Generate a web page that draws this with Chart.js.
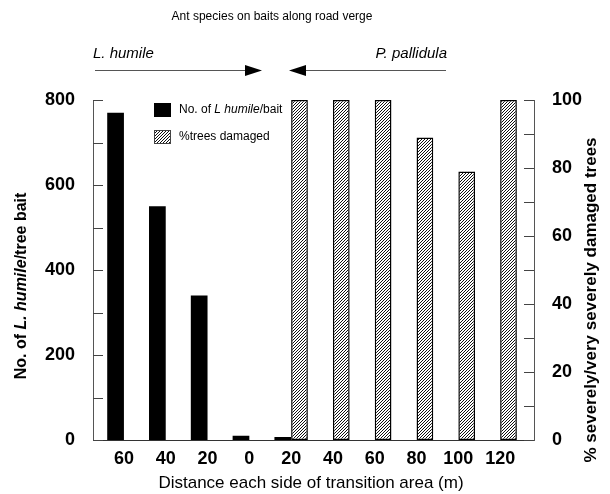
<!DOCTYPE html>
<html>
<head>
	<script src="https://cdn.jsdelivr.net/npm/chart.js@4/dist/chart.umd.min.js"></script>
	<title>Ant species on baits along road verge</title>
	<style>
		body { margin: 0; background: #fff; }
	</style>
</head>
<body>
	<canvas id="myChart" width="610" height="494"></canvas>
	<script type="text/javascript">
		// distances each side of the transition area (m)
		const distLabels = ['60', '40', '20', '0', '20', '40', '60', '80', '100', '120'];
		// No. of L. humile per tree bait
		const antCounts = [770, 550, 340, 10, 7, 0, 0, 0, 0, 0];
		// % severely / very severely damaged trees
		const pctDamaged = [0, 0, 0, 0, 100, 100, 100, 89, 79, 100];

		const leftTicks = [0, 200, 400, 600, 800];
		const rightTicks = [0, 20, 40, 60, 80, 100];

		const FONT = '"Liberation Sans", Arial, Helvetica, sans-serif';

		// diagonal hatching for the damage bars
		function makeHatch() {
			const c = document.createElement('canvas');
			c.width = 3; c.height = 3;
			const g = c.getContext('2d');
			g.fillStyle = '#fff';
			g.fillRect(0, 0, 3, 3);
			g.strokeStyle = '#111';
			g.lineWidth = 1;
			g.beginPath();
			g.moveTo(0, 3); g.lineTo(3, 0);
			g.moveTo(-1, 1); g.lineTo(1, -1);
			g.moveTo(2, 4); g.lineTo(4, 2);
			g.stroke();
			return g.createPattern(c, 'repeat');
		}
		const hatch = makeHatch();

		// draws a run of text pieces, some in italics
		function drawParts(ctx, parts, x, y, size, weight, align) {
			let total = 0;
			parts.forEach(p => {
				ctx.font = (p[1] ? 'italic ' : '') + weight + ' ' + size + 'px ' + FONT;
				total += ctx.measureText(p[0]).width;
			});
			let cx = align === 'center' ? x - total / 2 : (align === 'right' ? x - total : x);
			ctx.textAlign = 'left';
			parts.forEach(p => {
				ctx.font = (p[1] ? 'italic ' : '') + weight + ' ' + size + 'px ' + FONT;
				ctx.fillText(p[0], cx, y);
				cx += ctx.measureText(p[0]).width;
			});
		}

		const decor = {
			id: 'decor',
			afterDraw(chart) {
				const ctx = chart.ctx;
				const area = chart.chartArea;
				ctx.save();
				ctx.fillStyle = '#000';
				ctx.textBaseline = 'middle';

				// title
				ctx.font = '12px ' + FONT;
				ctx.textAlign = 'center';
				ctx.fillText('Ant species on baits along road verge', 272, 17);

				// species names and arrows
				ctx.font = 'italic 15px ' + FONT;
				ctx.textAlign = 'left';
				ctx.fillText('L. humile', 93, 54);
				ctx.textAlign = 'right';
				ctx.fillText('P. pallidula', 447, 54);

				ctx.strokeStyle = '#555';
				ctx.lineWidth = 1;
				ctx.beginPath();
				ctx.moveTo(95, 70.5); ctx.lineTo(246, 70.5);
				ctx.moveTo(304, 70.5); ctx.lineTo(446, 70.5);
				ctx.stroke();
				ctx.fillStyle = '#000';
				ctx.beginPath();
				ctx.moveTo(245, 65); ctx.lineTo(262, 70.5); ctx.lineTo(245, 76); ctx.closePath();
				ctx.fill();
				ctx.beginPath();
				ctx.moveTo(306, 65); ctx.lineTo(289, 70.5); ctx.lineTo(306, 76); ctx.closePath();
				ctx.fill();

				// legend
				ctx.fillStyle = '#000';
				ctx.fillRect(154, 103, 17, 14);
				ctx.fillStyle = hatch;
				ctx.fillRect(154, 130, 17, 14);
				ctx.strokeStyle = '#444';
				ctx.strokeRect(154.5, 130.5, 16, 13);
				ctx.fillStyle = '#000';
				drawParts(ctx, [['No. of ', false], ['L humile', true], ['/bait', false]], 179, 110, 12, 'normal', 'left');
				drawParts(ctx, [['%trees damaged', false]], 179, 137, 12, 'normal', 'left');

				// inward tick marks on both value axes
				ctx.strokeStyle = '#444';
				ctx.lineWidth = 1;
				ctx.beginPath();
				chart.scales.y.ticks.forEach(t => {
					const py = Math.round(chart.scales.y.getPixelForValue(t.value)) + 0.5;
					ctx.moveTo(area.left, py); ctx.lineTo(area.left + 10, py);
				});
				chart.scales.y2.ticks.forEach(t => {
					const py = Math.round(chart.scales.y2.getPixelForValue(t.value)) + 0.5;
					ctx.moveTo(area.right, py); ctx.lineTo(area.right - 10, py);
				});
				ctx.stroke();

				// axis titles
				ctx.fillStyle = '#000';
				ctx.save();
				ctx.translate(22, 286);
				ctx.rotate(-Math.PI / 2);
				drawParts(ctx, [['No. of ', false], ['L. humile', true], ['/tree bait', false]], 0, 0, 16, 'bold', 'center');
				ctx.restore();

				ctx.save();
				ctx.translate(591, 300);
				ctx.rotate(-Math.PI / 2);
				drawParts(ctx, [['% severely/very severely damaged trees', false]], 0, 0, 17, 'bold', 'center');
				ctx.restore();

				ctx.font = '17px ' + FONT;
				ctx.textAlign = 'center';
				ctx.fillText('Distance each side of transition area (m)', 311, 483);

				ctx.restore();
			}
		};

		const ctx = document.getElementById('myChart');
		const myChart = new Chart(ctx, {
			type: 'bar',
			data: {
				datasets: [
					{
						label: 'No. of L humile/bait',
						data: antCounts.map((v, i) => ({ x: i, y: v })),
						backgroundColor: '#000',
						borderWidth: 0,
						yAxisID: 'y'
					},
					{
						label: '%trees damaged',
						data: pctDamaged.map((v, i) => ({ x: i, y: v })),
						backgroundColor: hatch,
						borderColor: '#000',
						borderWidth: 1.5,
						borderSkipped: false,
						yAxisID: 'y2'
					}
				]
			},
			options: {
				responsive: false,
				animation: false,
				layout: { padding: { top: 100, left: 0, right: 0, bottom: 0 } },
				datasets: { bar: { categoryPercentage: 0.8, barPercentage: 1.0 } },
				plugins: {
					legend: { display: false },
					title: { display: false },
					tooltip: { enabled: false }
				},
				scales: {
					x: {
						type: 'linear',
						offset: false,
						min: -0.74,
						max: 9.81,
						afterBuildTicks: s => { s.ticks = distLabels.map((_, i) => ({ value: i })); },
						afterFit: s => { s.height = 54; },
						grid: { display: false, offset: false },
						border: { display: true, color: '#333', width: 1 },
						ticks: {
							autoSkip: false,
							maxRotation: 0,
							padding: 0,
							color: '#000',
							font: { family: FONT, size: 18, weight: 'bold' },
							callback: v => distLabels[v]
						}
					},
					y: {
						position: 'left',
						min: 0,
						max: 800,
						afterFit: s => { s.width = 93; },
						grid: { display: false },
						border: { display: true, color: '#555', width: 1 },
						ticks: {
							stepSize: 100,
							padding: 10,
							color: '#000',
							font: { family: FONT, size: 18, weight: 'bold' },
							callback: v => leftTicks.includes(v) ? String(v) : ''
						}
					},
					y2: {
						position: 'right',
						min: 0,
						max: 100,
						afterFit: s => { s.width = 76; },
						grid: { display: false },
						border: { display: true, color: '#555', width: 1 },
						ticks: {
							stepSize: 10,
							padding: 10,
							color: '#000',
							font: { family: FONT, size: 18, weight: 'bold' },
							callback: v => rightTicks.includes(v) ? String(v) : ''
						}
					}
				}
			},
			plugins: [decor]
		});
	</script>
</body>
</html>
